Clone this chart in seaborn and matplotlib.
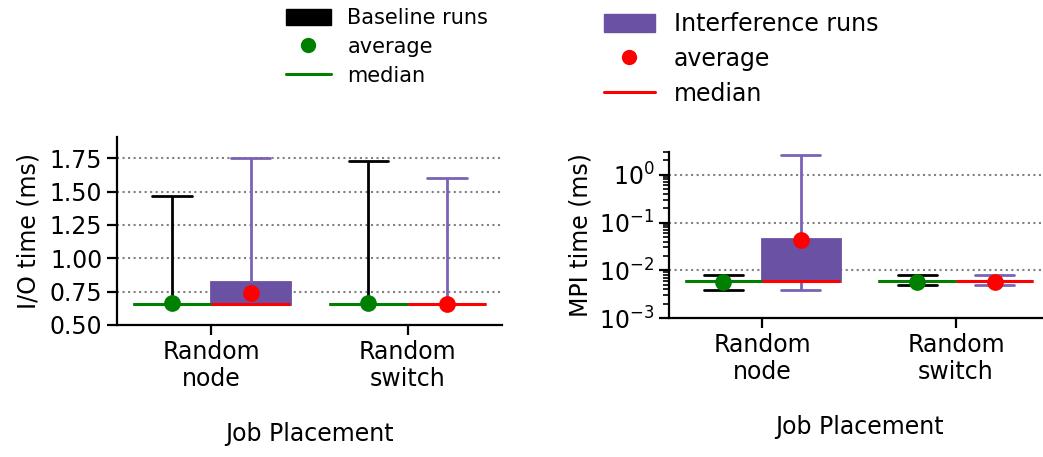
import numpy as np
import pandas as pd
import seaborn as sns
import matplotlib.pyplot as plt
from matplotlib.patches import Patch
from matplotlib.lines import Line2D

# categories
placements = ["Random\nnode", "Random\nswitch"]
runs = ["Baseline runs", "Interference runs"]

# I/O time (ms): whisker low, q1, median, q3, whisker high
io_base_lo = [0.655, 0.655]
io_base_q1 = [0.655, 0.655]
io_base_med = [0.655, 0.655]
io_base_q3 = [0.655, 0.655]
io_base_hi = [1.47, 1.73]
io_base_mean = [0.665, 0.665]

io_intf_lo = [0.655, 0.655]
io_intf_q1 = [0.655, 0.655]
io_intf_med = [0.655, 0.655]
io_intf_q3 = [0.82, 0.655]
io_intf_hi = [1.75, 1.60]
io_intf_mean = [0.742, 0.66]

# MPI time (ms)
mpi_base_lo = [0.0039, 0.0049]
mpi_base_q1 = [0.0059, 0.0059]
mpi_base_med = [0.0059, 0.0059]
mpi_base_q3 = [0.0059, 0.0059]
mpi_base_hi = [0.0081, 0.0080]
mpi_base_mean = [0.0057, 0.0057]

mpi_intf_lo = [0.0039, 0.0049]
mpi_intf_q1 = [0.0059, 0.0059]
mpi_intf_med = [0.0059, 0.0059]
mpi_intf_q3 = [0.045, 0.0059]
mpi_intf_hi = [2.6, 0.0080]
mpi_intf_mean = [0.043, 0.0057]

PURPLE = "#6a51a3"
PURPLE_LINE = "#7a63b5"


def five_number_frame(run, lo, q1, med, q3, hi):
    # 5 values per group -> percentiles 0/25/50/75/100 land exactly on them
    rows = []
    for i, p in enumerate(placements):
        for v in (lo[i], q1[i], med[i], q3[i], hi[i]):
            rows.append({"placement": p, "run": run, "value": v})
    return pd.DataFrame(rows)


def mean_frame(base_mean, intf_mean):
    rows = []
    for i, p in enumerate(placements):
        rows.append({"placement": p, "run": runs[0], "value": base_mean[i]})
        rows.append({"placement": p, "run": runs[1], "value": intf_mean[i]})
    return pd.DataFrame(rows)


def draw_panel(ax, base_df, intf_df, means_df, log):
    common = dict(x="placement", y="value", hue="run", order=placements,
                  hue_order=runs, width=0.8, gap=0, whis=(0, 100), dodge=True,
                  saturation=1, legend=False, ax=ax, log_scale=log)
    sns.boxplot(data=base_df, palette={runs[0]: "black", runs[1]: PURPLE},
                linecolor="black", linewidth=2,
                medianprops={"color": "green", "linewidth": 2.2, "zorder": 3},
                **common)
    sns.boxplot(data=intf_df, palette={runs[0]: "black", runs[1]: PURPLE},
                linecolor=PURPLE_LINE, linewidth=2,
                boxprops={"edgecolor": PURPLE},
                medianprops={"color": "red", "linewidth": 2.2, "zorder": 3},
                **common)
    sns.pointplot(data=means_df, x="placement", y="value", hue="run",
                  order=placements, hue_order=runs, dodge=0.4,
                  linestyle="none", markers="o", markersize=10,
                  palette={runs[0]: "green", runs[1]: "red"},
                  errorbar=None, legend=False, ax=ax, log_scale=log, zorder=5)
    ax.set_xlim(-0.48, 1.48)
    ax.grid(axis="y", which="major", linestyle=":", color="gray", linewidth=1.5)
    ax.set_axisbelow(True)
    ax.set_xlabel("Job Placement", labelpad=22)
    ax.tick_params(which="major", length=7, width=1.6)
    for s in ("left", "bottom"):
        ax.spines[s].set_linewidth(1.6)
    sns.despine(ax=ax)


sns.set_style("ticks")
plt.rcParams["font.family"] = ["DejaVu Sans"]
plt.rcParams["font.size"] = 17
plt.rcParams["axes.labelsize"] = 17
plt.rcParams["xtick.labelsize"] = 17
plt.rcParams["ytick.labelsize"] = 17
plt.rcParams["axes.edgecolor"] = "black"
plt.rcParams["xtick.color"] = "black"
plt.rcParams["ytick.color"] = "black"
plt.rcParams["text.color"] = "black"
plt.rcParams["axes.labelcolor"] = "black"

fig = plt.figure(figsize=(10.43, 4.57), dpi=100)
ax1 = fig.add_axes([117 / 1043, 1 - 325 / 457, 385 / 1043, 188 / 457])
ax2 = fig.add_axes([669 / 1043, 1 - 318 / 457, 380 / 1043, 166 / 457])

io_base = five_number_frame(runs[0], io_base_lo, io_base_q1, io_base_med, io_base_q3, io_base_hi)
io_intf = five_number_frame(runs[1], io_intf_lo, io_intf_q1, io_intf_med, io_intf_q3, io_intf_hi)
draw_panel(ax1, io_base, io_intf, mean_frame(io_base_mean, io_intf_mean), False)
ax1.set_ylim(0.5, 1.91)
ax1.set_yticks([0.5, 0.75, 1.0, 1.25, 1.5, 1.75])
ax1.set_yticklabels(["0.50", "0.75", "1.00", "1.25", "1.50", "1.75"])
ax1.set_ylabel("I/O time (ms)", labelpad=7)

mpi_base = five_number_frame(runs[0], mpi_base_lo, mpi_base_q1, mpi_base_med, mpi_base_q3, mpi_base_hi)
mpi_intf = five_number_frame(runs[1], mpi_intf_lo, mpi_intf_q1, mpi_intf_med, mpi_intf_q3, mpi_intf_hi)
draw_panel(ax2, mpi_base, mpi_intf, mean_frame(mpi_base_mean, mpi_intf_mean), True)
ax2.set_yscale("log")
ax2.set_ylim(1e-3, 3)
ax2.set_yticks([1e-3, 1e-2, 1e-1, 1e0])
ax2.tick_params(axis="y", which="minor", length=4, width=1.2)
ax2.set_ylabel("MPI time (ms)", labelpad=5)

# legends above each panel
base_handles = [
    Patch(facecolor="black", edgecolor="black"),
    Line2D([], [], color="green", marker="o", linestyle="none", markersize=10),
    Line2D([], [], color="green", linewidth=2.2),
]
fig.legend(base_handles, ["Baseline runs", "average", "median"], loc="center",
           bbox_to_anchor=(387 / 1043, 1 - 47 / 457), frameon=False,
           fontsize=15, handlelength=2.15, handleheight=0.82, labelspacing=0.42)

intf_handles = [
    Patch(facecolor=PURPLE, edgecolor=PURPLE),
    Line2D([], [], color="red", marker="o", linestyle="none", markersize=10),
    Line2D([], [], color="red", linewidth=2.2),
]
fig.legend(intf_handles, ["Interference runs", "average", "median"], loc="center",
           bbox_to_anchor=(741 / 1043, 1 - 59 / 457), frameon=False,
           fontsize=17, handlelength=2.15, handleheight=0.78, labelspacing=0.45)

fig.savefig("out.png", dpi=100)
